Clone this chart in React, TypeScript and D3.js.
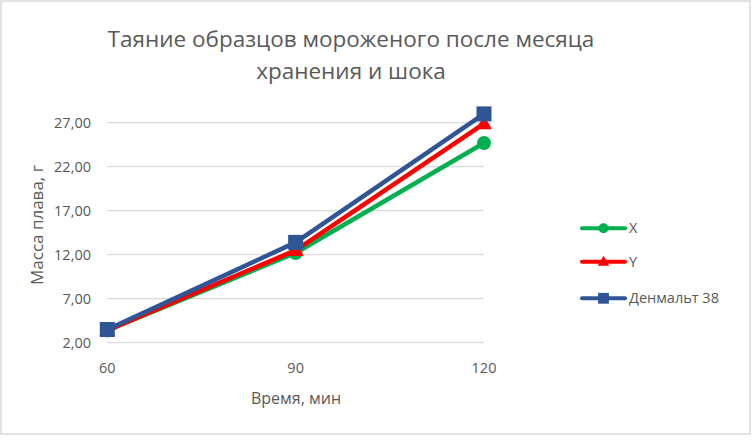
import * as d3 from 'd3';
import * as React from 'react';

const times = [60, 90, 120];
const seriesNames = ['X', 'Y', 'Денмальт 38'];
const valuesX = [3.4, 12.2, 24.7];
const valuesY = [3.4, 12.5, 26.9];
const valuesDenmalt = [3.5, 13.4, 28.0];
const yTicks = [2, 7, 12, 17, 22, 27];
const colors = ['#00b050', '#ff0000', '#2f5597'];
const markers = ['circle', 'triangle', 'square'];

const width = 755;
const height = 440;
const font = "'Open Sans', 'Noto Sans', sans-serif";
const textColor = '#595959';

const x = d3.scaleLinear().domain([60, 120]).range([107.3, 484]);
const y = d3.scaleLinear().domain([2, 27]).range([342.7, 122.7]);

const line = d3
  .line<number>()
  .x((_, i) => x(times[i]))
  .y((d) => y(d));

const Marker = ({ kind, cx, cy, color, k = 1 }: { kind: string; cx: number; cy: number; color: string; k?: number }) => {
  if (kind === 'circle') return <circle cx={cx} cy={cy} r={7 * k} fill={color} />;
  if (kind === 'triangle') {
    const sym = d3.symbol().type(d3.symbolTriangle).size(110 * k * k)();
    return <path d={sym ?? ''} transform={`translate(${cx},${cy + k})`} fill={color} />;
  }
  const s = 15 * k;
  return <rect x={cx - s / 2} y={cy - s / 2} width={s} height={s} fill={color} />;
};

export default function App() {
  const series = [valuesX, valuesY, valuesDenmalt];
  return (
    <svg
      width={width}
      height={height}
      style={{ position: 'absolute', left: 0, top: 0, background: '#fff' }}
    >
      <rect x={1} y={1} width={749} height={433} fill="#fff" stroke="#d9d9d9" strokeWidth={1.5} />
      <text x={351} y={47} textAnchor="middle" fontFamily={font} fontSize={22.5} fill={textColor}>
        Таяние образцов мороженого после месяца
      </text>
      <text x={351} y={79} textAnchor="middle" fontFamily={font} fontSize={22.5} fill={textColor}>
        хранения и шока
      </text>

      {yTicks.map((t) => (
        <g key={t}>
          <line x1={x(60)} x2={x(120)} y1={y(t)} y2={y(t)} stroke="#d9d9d9" strokeWidth={1.2} />
          <text x={91} y={y(t) + 5} textAnchor="end" fontFamily={font} fontSize={14.5} fill={textColor}>
            {t.toFixed(2).replace('.', ',')}
          </text>
        </g>
      ))}
      {times.map((t) => (
        <text key={t} x={x(t)} y={373} textAnchor="middle" fontFamily={font} fontSize={14.5} fill={textColor}>
          {t}
        </text>
      ))}
      <text x={296} y={404} textAnchor="middle" fontFamily={font} fontSize={16} fill={textColor}>
        Время, мин
      </text>
      <text
        transform="translate(43,225) rotate(-90)"
        textAnchor="middle"
        fontFamily={font}
        fontSize={17}
        fill={textColor}
      >
        Масса плава, г
      </text>

      {series.map((vals, s) => (
        <g key={seriesNames[s]}>
          <path d={line(vals) ?? ''} fill="none" stroke={colors[s]} strokeWidth={4.5} strokeLinejoin="round" />
          {vals.map((v, i) => (
            <Marker key={i} kind={markers[s]} cx={x(times[i])} cy={y(v)} color={colors[s]} />
          ))}
        </g>
      ))}

      {seriesNames.map((name, s) => {
        const ly = [228.3, 261.7, 298.3][s];
        return (
          <g key={name}>
            <line x1={582} x2={625} y1={ly} y2={ly} stroke={colors[s]} strokeWidth={4} strokeLinecap="round" />
            <Marker kind={markers[s]} cx={603.5} cy={ly} color={colors[s]} k={0.72} />
            <text x={629} y={ly + 5} fontFamily={font} fontSize={14.5} fill={textColor}>
              {name}
            </text>
          </g>
        );
      })}
    </svg>
  );
}
